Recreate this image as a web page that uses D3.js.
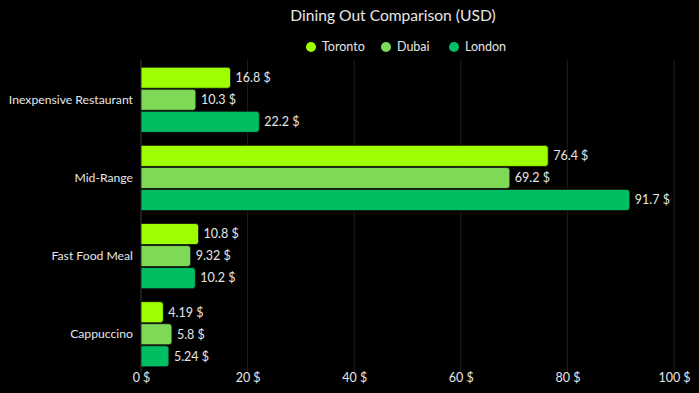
<!DOCTYPE html>
<html><head><meta charset="utf-8">
<script src="https://cdn.jsdelivr.net/npm/d3@7"></script>
<style>html,body{margin:0;padding:0;background:#000;}svg{display:block;}</style>
</head><body>
<script>
const categories = ["Inexpensive Restaurant", "Mid-Range", "Fast Food Meal", "Cappuccino"];
const seriesNames = ["Toronto", "Dubai", "London"];
const toronto = [16.8, 76.4, 10.8, 4.19];
const dubai = [10.3, 69.2, 9.32, 5.8];
const london = [22.2, 91.7, 10.2, 5.24];
const xTicks = [0, 20, 40, 60, 80, 100];
const colors = ["#9EFF00", "#7ED957", "#00BF63"];

const W = 699, H = 393;
const font = "Lato, sans-serif";
const txt = "#e6e6e6";
const svg = d3.select("body").append("svg").attr("width", W).attr("height", H).style("background", "#000");

const x = d3.scaleLinear().domain([0, 100]).range([141, 674]);
const y = d3.scaleBand().domain(categories).range([56, 378]).paddingInner(12 / 78).paddingOuter(12 / 78 / 2 + 0.06);
const sub = d3.scaleBand().domain(seriesNames).range([0, y.bandwidth()]).padding(0);

const series = [toronto, dubai, london];

// gridlines
svg.append("g").selectAll("line").data(xTicks).join("line")
  .attr("x1", d => x(d)).attr("x2", d => x(d))
  .attr("y1", 60).attr("y2", 372)
  .attr("stroke", d => d === 0 ? "#3a3a3a" : "#1e1e1e").attr("stroke-width", 1);

// x axis labels
const xAxis = d3.axisBottom(x).tickValues(xTicks).tickFormat(d => d + " $").tickSize(0);
const gx = svg.append("g").attr("transform", "translate(0,372)").call(xAxis);
gx.select(".domain").remove();
gx.selectAll("text").attr("fill", txt).style("font-family", font).style("font-size", "12.5px").attr("dy", "0.71em").attr("y", 1);

// y axis labels
const yAxis = d3.axisLeft(y).tickSize(0).tickPadding(8);
const gy = svg.append("g").attr("transform", "translate(141,0)").call(yAxis);
gy.select(".domain").remove();
gy.selectAll("text").attr("fill", txt).style("font-family", font).style("font-size", "12.2px");

function barPath(x0, x1, y0, h, r) {
  const w = x1 - x0;
  r = Math.min(r, w / 2, h / 2);
  return `M${x0},${y0}H${x1 - r}Q${x1},${y0} ${x1},${y0 + r}V${y0 + h - r}Q${x1},${y0 + h} ${x1 - r},${y0 + h}H${x0}Z`;
}

const rows = [];
categories.forEach((c, i) => {
  seriesNames.forEach((s, j) => rows.push({ c, s, j, v: series[j][i] }));
});

const bh = sub.bandwidth() - 1;
svg.append("g").selectAll("path").data(rows).join("path")
  .attr("d", d => barPath(x(0), x(d.v), y(d.c) + sub(d.s) + 0.5, bh, 3))
  .attr("fill", d => colors[d.j])
  .attr("stroke", "#111").attr("stroke-width", 0.8);

svg.append("g").selectAll("text").data(rows).join("text")
  .attr("x", d => x(d.v) + 5)
  .attr("y", d => y(d.c) + sub(d.s) + sub.bandwidth() / 2)
  .attr("dy", "0.35em")
  .attr("fill", txt).style("font-family", font).style("font-size", "12.5px")
  .text(d => d.v + " $");

// title
svg.append("text").attr("x", 393).attr("y", 16).attr("text-anchor", "middle").attr("dy", "0.35em")
  .attr("fill", txt).style("font-family", font).style("font-size", "15.6px").text("Dining Out Comparison (USD)");

// legend
const legX = [311, 386, 454];
const lg = svg.append("g").selectAll("g").data(seriesNames).join("g")
  .attr("transform", (d, i) => `translate(${legX[i]},47)`);
lg.append("circle").attr("r", 5).attr("fill", (d, i) => colors[i]);
lg.append("text").attr("x", 11).attr("dy", "0.35em").attr("fill", txt)
  .style("font-family", font).style("font-size", "12.5px").text(d => d);
</script>
</body></html>
